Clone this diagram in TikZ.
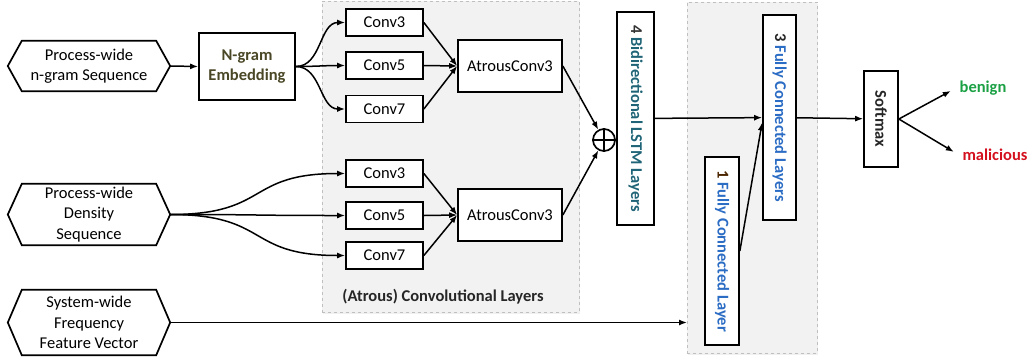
\documentclass[tikz,border=0pt]{standalone}
\usepackage{fontspec}
\setmainfont{Carlito}
\usetikzlibrary{arrows.meta,calc,shadows}
\newcommand\fs{\fontsize{16.5}{20.5}\selectfont}
\newcommand\hexa[1]{\draw[line width=1.7pt] ($(#1.north west)+(14,0)$) -- ($(#1.north east)+(-14,0)$) -- (#1.east) -- ($(#1.south east)+(-14,0)$) -- ($(#1.south west)+(14,0)$) -- (#1.west) -- cycle;}
\definecolor{embc}{HTML}{4A4726}
\definecolor{lstmc}{HTML}{1F6477}
\definecolor{fcc}{HTML}{2B6CC4}
\definecolor{benc}{HTML}{1BA044}
\definecolor{malc}{HTML}{D4101F}
\begin{document}
\begin{tikzpicture}[x=1pt,y=-1pt,
  box/.style={draw, line width=1.7pt, fill=white, inner sep=0pt, align=center, font=\fs},
  hexn/.style={inner sep=0pt, minimum width=162pt, align=center, font=\fs},
  convbox/.style={box, minimum width=77pt, minimum height=27pt},
  atrbox/.style={box, minimum width=104pt, minimum height=52pt},
  vbox/.style={box, rotate=-90, font=\fs\bfseries},
  arr/.style={line width=1.5pt, -{Latex[length=8pt,width=6pt]}},
  panel/.style={draw=black!25, dashed, fill=black!5, line width=0.6pt, inner sep=0pt, anchor=north west,
    drop shadow={opacity=0.12, shadow xshift=1pt, shadow yshift=-2pt}},
  ]
\useasboundingbox (0,0) rectangle (1033,360);
% panels
\node[panel, minimum width=257pt, minimum height=311pt] (cpanel) at (322,1) {};
\node[panel, minimum width=130pt, minimum height=351pt] (fpanel) at (687,2) {};
\node[font=\fs\bfseries, text=black!85] (plabel) at (443,297) {(Atrous) Convolutional Layers};
% inputs
\node[hexn, minimum height=50pt] (h1) at (89,66) {Process-wide\\n-gram Sequence};
\node[hexn, minimum height=61pt] (h2) at (89,214.5) {Process-wide\\Density\\Sequence};
\node[hexn, minimum height=65pt] (h3) at (89,322.5) {System-wide\\Frequency\\Feature Vector};
\hexa{h1}\hexa{h2}\hexa{h3}
% embedding
\node[box, minimum width=96pt, minimum height=67pt, font=\fs\bfseries, text=embc] (emb) at (247,66.5) {N-gram\\Embedding};
% convs
\node[convbox] (c1) at (384.5,22.5) {Conv3};
\node[convbox] (c2) at (384.5,65.5) {Conv5};
\node[convbox] (c3) at (384.5,109) {Conv7};
\node[convbox] (d1) at (384.5,173.5) {Conv3};
\node[convbox] (d2) at (384.5,215.5) {Conv5};
\node[convbox] (d3) at (384.5,255.5) {Conv7};
\node[atrbox] (a1) at (510,66) {AtrousConv3};
\node[atrbox] (a2) at (510,215) {AtrousConv3};
% oplus
\node[circle, draw, line width=1.7pt, fill=white, minimum size=22pt, inner sep=0pt] (op) at (604,140) {};
\draw[line width=1.7pt] (op.north) -- (op.south) (op.west) -- (op.east);
% vertical boxes
\node[vbox, minimum width=213pt, minimum height=37pt, text=lstmc] (lstm) at (635.5,118.5) {{\color{black!80}4} Bidirectional LSTM Layers};
\node[vbox, minimum width=205pt, minimum height=33pt, text=fcc] (fc3) at (779.5,117.5) {{\color{black!85}3} Fully Connected Layers};
\node[vbox, minimum width=188pt, minimum height=34pt, text=fcc] (fc1) at (722,251) {{\color{black!70!orange}1} Fully Connected Layer};
\node[vbox, minimum width=96pt, minimum height=34pt, text=black!85] (soft) at (881,119) {Softmax};
% outputs
\node[font=\fs\bfseries, text=benc] (ben) at (983,88) {benign};
\node[font=\fs\bfseries, text=malc] (mal) at (995,155) {malicious};
% connectors
\draw[arr] (h1.east) -- (emb.west);
\foreach \c in {c1,c2,c3} \draw[arr] (emb.east) to[out=0,in=180] (\c.west);
\foreach \c in {d1,d2,d3} \draw[arr] (h2.east) .. controls +(100,0) and +(-100,0) .. (\c.west);
\foreach \c in {c1,c2,c3} \draw[arr] (\c.east) -- (a1.west);
\foreach \c in {d1,d2,d3} \draw[arr] (\c.east) -- (a2.west);
\draw[arr] (a1.east) -- (op);
\draw[arr] (a2.east) -- (op);
\draw[arr] (lstm) -- (fc3);
\draw[arr] (fc1.north) -- ([yshift=-5pt]fc3.south);
\draw[arr] (h3.east) -- (h3.east -| fpanel.west);
\draw[arr] (fc3) -- (soft);
\draw[arr, shorten >=6pt] (soft.north) -- (ben.west);
\draw[arr, shorten >=6pt] (soft.north) -- (mal.west);
\end{tikzpicture}
\end{document}
